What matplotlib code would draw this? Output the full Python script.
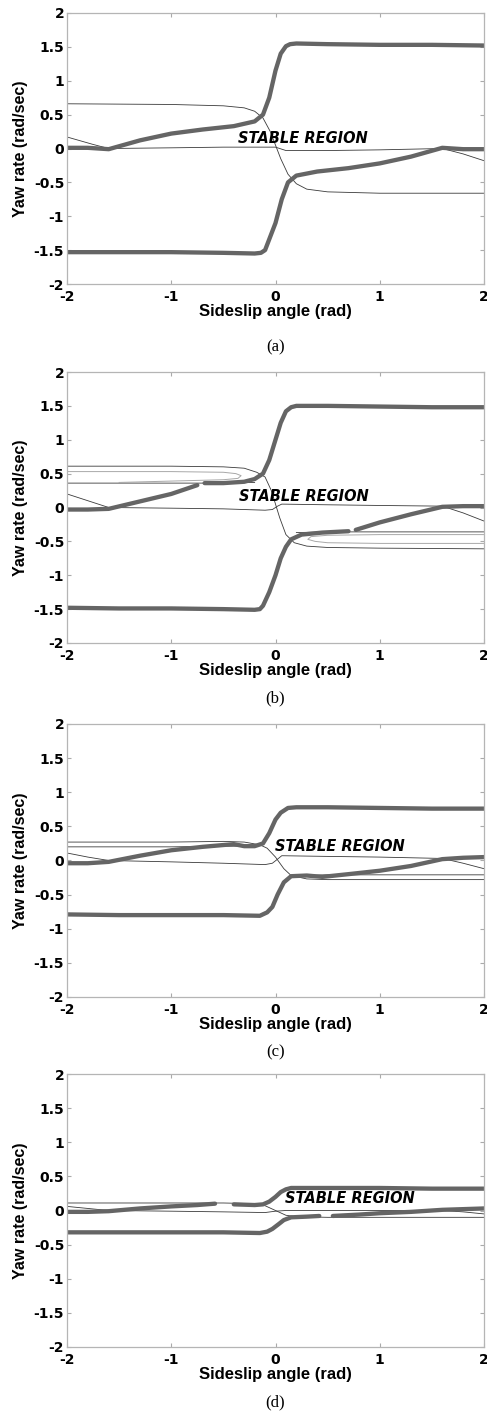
import numpy as np
import matplotlib
matplotlib.use("Agg")
import matplotlib.pyplot as plt

# ---- data (sideslip angle, yaw rate) ----
# panel (a)
a_thick_up_x = [-2.0, -1.8, -1.6, -1.3, -1.0, -0.7, -0.4, -0.2, -0.12, -0.06, 0.0, 0.05, 0.1, 0.14, 0.2, 0.5, 1.0, 1.5, 2.0]
a_thick_up_y = [0.01, 0.01, -0.01, 0.12, 0.22, 0.28, 0.33, 0.4, 0.5, 0.75, 1.15, 1.4, 1.51, 1.54, 1.55, 1.54, 1.53, 1.53, 1.52]
a_thick_lo_x = [-2.0, -1.5, -1.0, -0.5, -0.2, -0.14, -0.1, -0.05, 0.0, 0.06, 0.12, 0.2, 0.4, 0.7, 1.0, 1.3, 1.6, 1.8, 2.0]
a_thick_lo_y = [-1.53, -1.53, -1.53, -1.54, -1.55, -1.54, -1.5, -1.3, -1.1, -0.75, -0.5, -0.4, -0.34, -0.29, -0.22, -0.12, 0.01, -0.01, -0.01]
a_thin1_x = [-2.0, -1.0, -0.5, -0.3, -0.2, -0.12, -0.05, 0.0, 0.05, 0.12, 0.2, 0.3, 0.5, 1.0, 2.0]
a_thin1_y = [0.66, 0.65, 0.63, 0.6, 0.55, 0.45, 0.25, 0.05, -0.15, -0.38, -0.52, -0.6, -0.64, -0.66, -0.66]
a_thin2_x = [-2.0, -1.75, -1.6, -1.0, -0.5, 0.0, 0.1, 0.5, 1.0, 1.6, 1.8, 2.0]
a_thin2_y = [0.17, 0.06, 0.0, 0.01, 0.02, 0.02, -0.03, -0.03, -0.02, 0.0, -0.08, -0.18]

# panel (b)
b_thick_up1_x = [-2.0, -1.8, -1.6, -1.3, -1.0, -0.75]
b_thick_up1_y = [-0.03, -0.03, -0.02, 0.09, 0.2, 0.33]
b_thick_up2_x = [-0.68, -0.5, -0.3, -0.2, -0.12, -0.06, 0.0, 0.05, 0.1, 0.15, 0.2, 0.5, 1.0, 1.5, 2.0]
b_thick_up2_y = [0.36, 0.36, 0.38, 0.42, 0.5, 0.7, 1.0, 1.25, 1.42, 1.48, 1.5, 1.5, 1.49, 1.48, 1.48]
b_thick_lo1_x = [-2.0, -1.5, -1.0, -0.5, -0.2, -0.15, -0.12, -0.06, 0.0, 0.05, 0.1, 0.15, 0.25, 0.45, 0.7]
b_thick_lo1_y = [-1.48, -1.49, -1.49, -1.5, -1.51, -1.5, -1.45, -1.25, -1.0, -0.75, -0.58, -0.47, -0.4, -0.37, -0.35]
b_thick_lo2_x = [0.77, 1.0, 1.3, 1.6, 1.8, 2.0]
b_thick_lo2_y = [-0.33, -0.22, -0.1, 0.01, 0.02, 0.02]
b_thin1_x = [-2.0, -1.0, -0.5, -0.3, -0.18, -0.1, -0.04, 0.0, 0.04, 0.1, 0.18, 0.3, 0.5, 1.0, 2.0]
b_thin1_y = [0.61, 0.61, 0.6, 0.58, 0.52, 0.45, 0.25, 0.05, -0.15, -0.4, -0.52, -0.57, -0.59, -0.6, -0.61]
b_thin2_x = [-2.0, -1.8, -1.6, -1.0, -0.5, -0.1, -0.03, 0.02, 0.06, 0.5, 1.0, 1.6, 1.8, 2.0]
b_thin2_y = [0.2, 0.1, 0.0, -0.01, -0.02, -0.04, -0.03, 0.02, 0.05, 0.04, 0.03, 0.02, -0.08, -0.2]
b_thin3_x = [-2.0, -1.0, -0.5, -0.2]
b_thin3_y = [0.36, 0.36, 0.36, 0.37]
b_thin4_x = [0.2, 0.5, 1.0, 2.0]
b_thin4_y = [-0.37, -0.36, -0.36, -0.36]
b_loop_l_x = [-2.0, -1.0, -0.5, -0.38, -0.33, -0.36, -0.5, -1.0, -1.5]
b_loop_l_y = [0.53, 0.53, 0.52, 0.5, 0.47, 0.43, 0.41, 0.39, 0.37]
b_loop_r_x = [2.0, 1.0, 0.5, 0.38, 0.31, 0.34, 0.5, 1.0, 2.0]
b_loop_r_y = [-0.53, -0.53, -0.52, -0.5, -0.47, -0.43, -0.41, -0.4, -0.4]

# panel (c)
c_thick_up_x = [-2.0, -1.8, -1.6, -1.3, -1.0, -0.7, -0.4, -0.3, -0.2, -0.12, -0.06, 0.0, 0.05, 0.12, 0.2, 0.5, 1.0, 1.5, 2.0]
c_thick_up_y = [-0.04, -0.04, -0.02, 0.07, 0.15, 0.2, 0.24, 0.21, 0.21, 0.25, 0.4, 0.6, 0.7, 0.77, 0.78, 0.78, 0.77, 0.76, 0.76]
c_thick_lo_x = [-2.0, -1.5, -1.0, -0.5, -0.15, -0.08, -0.03, 0.02, 0.08, 0.15, 0.3, 0.45, 0.7, 1.0, 1.3, 1.6, 1.8, 2.0]
c_thick_lo_y = [-0.79, -0.8, -0.8, -0.8, -0.81, -0.76, -0.68, -0.5, -0.32, -0.23, -0.22, -0.24, -0.2, -0.15, -0.08, 0.02, 0.04, 0.05]
c_thin1_x = [-2.0, -1.0, -0.5, -0.3, -0.15, -0.08, 0.0, 0.08, 0.15, 0.3, 0.5, 1.0, 2.0]
c_thin1_y = [0.27, 0.27, 0.28, 0.27, 0.23, 0.18, 0.05, -0.12, -0.22, -0.27, -0.28, -0.28, -0.28]
c_thin2_x = [-2.0, -1.0, -0.5, -0.25]
c_thin2_y = [0.2, 0.2, 0.21, 0.21]
c_thin3_x = [0.25, 0.5, 1.0, 2.0]
c_thin3_y = [-0.22, -0.21, -0.21, -0.21]
c_thin4_x = [-2.0, -1.8, -1.6, -1.0, -0.5, -0.1, -0.03, 0.02, 0.06, 0.5, 1.0, 1.6, 1.8, 2.0]
c_thin4_y = [0.11, 0.05, 0.0, -0.02, -0.04, -0.06, -0.04, 0.02, 0.07, 0.06, 0.05, 0.03, -0.04, -0.12]

# panel (d)
d_thick_up1_x = [-2.0, -1.8, -1.6, -1.3, -1.0, -0.75, -0.58]
d_thick_up1_y = [-0.02, -0.02, -0.01, 0.03, 0.06, 0.08, 0.1]
d_thick_up2_x = [-0.4, -0.2, -0.12, -0.06, 0.0, 0.05, 0.1, 0.15, 0.5, 1.0, 1.5, 2.0]
d_thick_up2_y = [0.09, 0.08, 0.09, 0.13, 0.2, 0.27, 0.31, 0.33, 0.33, 0.33, 0.32, 0.32]
d_thick_lo1_x = [-2.0, -1.5, -1.0, -0.5, -0.15, -0.08, -0.03, 0.03, 0.08, 0.15, 0.3, 0.42]
d_thick_lo1_y = [-0.32, -0.32, -0.32, -0.32, -0.33, -0.31, -0.27, -0.2, -0.14, -0.1, -0.09, -0.08]
d_thick_lo2_x = [0.55, 0.8, 1.0, 1.3, 1.6, 1.8, 2.0]
d_thick_lo2_y = [-0.08, -0.06, -0.04, -0.02, 0.01, 0.02, 0.03]
d_thin1_x = [-2.0, -1.0, -0.5, -0.2, -0.1, 0.0, 0.1, 0.2, 0.5, 1.0, 2.0]
d_thin1_y = [0.11, 0.11, 0.11, 0.1, 0.07, 0.0, -0.07, -0.09, -0.1, -0.1, -0.1]
d_thin2_x = [-2.0, -1.8, -1.6, -1.0, -0.5, -0.1, 0.0, 0.1, 0.5, 1.0, 1.6, 1.8, 2.0]
d_thin2_y = [0.06, 0.03, 0.0, -0.01, -0.02, -0.03, -0.01, 0.0, 0.0, 0.0, 0.0, -0.02, -0.05]

panel_tags = ["(a)", "(b)", "(c)", "(d)"]
region_pos = [(0.26, 0.15), (0.27, 0.16), (0.62, 0.2), (0.71, 0.18)]
x_ticks = [-2, -1, 0, 1, 2]
y_ticks = [-2, -1.5, -1, -0.5, 0, 0.5, 1, 1.5, 2]
y_ticklabels = ["-2", "-1.5", "-1", "-0.5", "0", "0.5", "1", "1.5", "2"]

thick = [
    [(a_thick_up_x, a_thick_up_y), (a_thick_lo_x, a_thick_lo_y)],
    [(b_thick_up1_x, b_thick_up1_y), (b_thick_up2_x, b_thick_up2_y),
     (b_thick_lo1_x, b_thick_lo1_y), (b_thick_lo2_x, b_thick_lo2_y)],
    [(c_thick_up_x, c_thick_up_y), (c_thick_lo_x, c_thick_lo_y)],
    [(d_thick_up1_x, d_thick_up1_y), (d_thick_up2_x, d_thick_up2_y),
     (d_thick_lo1_x, d_thick_lo1_y), (d_thick_lo2_x, d_thick_lo2_y)],
]
thin = [
    [(a_thin1_x, a_thin1_y), (a_thin2_x, a_thin2_y)],
    [(b_thin1_x, b_thin1_y), (b_thin2_x, b_thin2_y), (b_thin3_x, b_thin3_y), (b_thin4_x, b_thin4_y)],
    [(c_thin1_x, c_thin1_y), (c_thin2_x, c_thin2_y), (c_thin3_x, c_thin3_y), (c_thin4_x, c_thin4_y)],
    [(d_thin1_x, d_thin1_y), (d_thin2_x, d_thin2_y)],
]
light = [[], [(b_loop_l_x, b_loop_l_y), (b_loop_r_x, b_loop_r_y)], [], []]

plt.rcParams['font.family'] = ['DejaVu Sans']
plt.rcParams['axes.unicode_minus'] = False

fig = plt.figure(figsize=(4.87, 14.12), dpi=100)
W, H = 487, 1412
ax_left, ax_right = 67, 484
ax_tops = [13, 372, 724, 1074]
ax_bots = [284, 643, 997, 1347]
tag_y = [347, 698, 1052, 1402]

for i in range(4):
    ax = fig.add_axes([ax_left / W, 1 - ax_bots[i] / H,
                       (ax_right - ax_left) / W, (ax_bots[i] - ax_tops[i]) / H])
    for xs, ys in thin[i]:
        ax.plot(xs, ys, color='#3a3a3a', lw=0.6)
    for xs, ys in light[i]:
        ax.plot(xs, ys, color='#a8a8a8', lw=0.7)
    for xs, ys in thick[i]:
        ax.plot(xs, ys, color='#656565', lw=3.1, solid_capstyle='round',
                solid_joinstyle='round')
    ax.set_xlim(-2, 2)
    ax.set_ylim(-2, 2)
    ax.set_xticks(x_ticks)
    ax.set_yticks(y_ticks)
    ax.set_yticklabels(y_ticklabels)
    ax.tick_params(direction='in', top=True, right=True, length=3,
                   color='#aaaaaa', labelsize=10, pad=2)
    ax.tick_params(axis='x', pad=4)
    for lab in ax.get_xticklabels() + ax.get_yticklabels():
        lab.set_fontweight('bold')
    for sp in ax.spines.values():
        sp.set_color('#b5b5b5')
        sp.set_linewidth(0.9)
    ax.set_xlabel('Sideslip angle (rad)', fontsize=12, fontweight='bold',
                  family='Liberation Sans', labelpad=0)
    ax.set_ylabel('Yaw rate (rad/sec)', fontsize=11.5, fontweight='bold',
                  family='Liberation Sans', labelpad=4)
    ax.text(region_pos[i][0], region_pos[i][1], 'STABLE REGION', fontsize=10.5,
            fontweight='bold', fontstyle='italic', ha='center', va='center')
    fig.text(0.5 * (ax_left + ax_right) / W, 1 - tag_y[i] / H, panel_tags[i],
             fontsize=12, family='Liberation Serif', ha='center', va='center')

plt.savefig('out.png', dpi=100)
